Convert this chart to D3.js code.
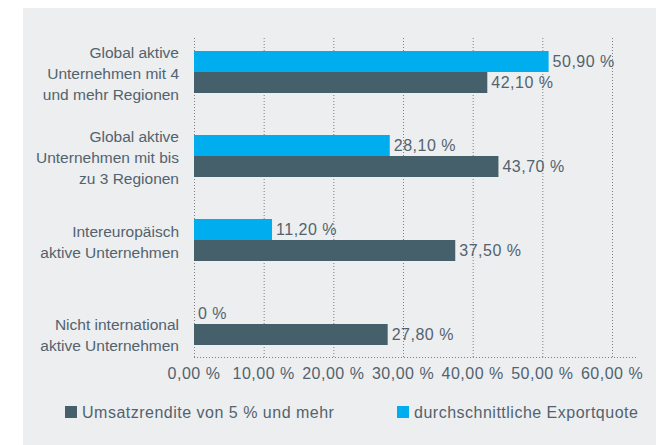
<!DOCTYPE html>
<html><head><meta charset="utf-8">
<script src="https://cdn.jsdelivr.net/npm/d3@7"></script>
<style>
html,body{margin:0;padding:0;background:#fff;}
svg{display:block;font-family:"Liberation Sans",Arial,sans-serif;}
</style></head>
<body>
<svg id="c" width="656" height="445"></svg>
<script>
const categories = [
  ["Global aktive","Unternehmen mit 4","und mehr Regionen"],
  ["Global aktive","Unternehmen mit bis","zu 3 Regionen"],
  ["Intereuropäisch","aktive Unternehmen"],
  ["Nicht international","aktive Unternehmen"]
];
const exportquote = [50.9, 28.1, 11.2, 0];
const umsatzrendite = [42.1, 43.7, 37.5, 27.8];
const valueLabelsExport = ["50,90 %","28,10 %","11,20 %","0 %"];
const valueLabelsUmsatz = ["42,10 %","43,70 %","37,50 %","27,80 %"];
const ticks = [0,10,20,30,40,50,60];
const tickLabels = ["0,00 %","10,00 %","20,00 %","30,00 %","40,00 %","50,00 %","60,00 %"];
const legendNames = ["Umsatzrendite von 5 % und mehr","durchschnittliche Exportquote"];

(function(){
const BLUE="#00aeef", DARK="#455f6b", TXT="#52636e", GRID="#7d7f82";
const FS=16, LS=0.5, CFS=15.5;
const svg=d3.select("#c");
svg.append("rect").attr("x",23).attr("y",8).attr("width",633).attr("height",437).attr("fill","#edeef0");

const x=d3.scaleLinear().domain([0,60]).range([194,612]);
const y=d3.scaleBand().domain(d3.range(4)).range([30,366]).paddingInner(0.5).paddingOuter(0.25);
const bh=y.bandwidth()/2;
const gTop=38, axisY=357;

svg.append("g").selectAll("line").data(ticks).join("line")
  .attr("x1",d=>x(d)+0.5).attr("x2",d=>x(d)+0.5).attr("y1",gTop).attr("y2",axisY+2)
  .attr("stroke",GRID).attr("stroke-width",1).attr("stroke-dasharray","1,2");
svg.append("line").attr("x1",194).attr("x2",637).attr("y1",axisY+0.5).attr("y2",axisY+0.5)
  .attr("stroke",GRID).attr("stroke-width",1).attr("stroke-dasharray","1,2");

svg.append("g").selectAll("rect").data(exportquote).join("rect")
  .attr("x",x(0)).attr("y",(d,i)=>y(i)).attr("width",d=>x(d)-x(0)).attr("height",bh).attr("fill",BLUE);
svg.append("g").selectAll("rect").data(umsatzrendite).join("rect")
  .attr("x",x(0)).attr("y",(d,i)=>y(i)+bh).attr("width",d=>x(d)-x(0)).attr("height",bh).attr("fill",DARK);

svg.append("g").selectAll("text").data(exportquote).join("text")
  .attr("x",d=>x(d)+4).attr("y",(d,i)=>y(i)+bh/2).attr("dy","0.35em")
  .attr("fill",TXT).attr("font-size",FS).attr("letter-spacing",LS).text((d,i)=>valueLabelsExport[i]);
svg.append("g").selectAll("text").data(umsatzrendite).join("text")
  .attr("x",d=>x(d)+4).attr("y",(d,i)=>y(i)+bh*1.5).attr("dy","0.35em")
  .attr("fill",TXT).attr("font-size",FS).attr("letter-spacing",LS).text((d,i)=>valueLabelsUmsatz[i]);

const lh=21;
categories.forEach((lines,i)=>{
  const c = y(i)+y.bandwidth()/2 + (exportquote[i]===0 ? 11 : 2);
  const t=svg.append("text").attr("text-anchor","end").attr("fill",TXT).attr("font-size",CFS);
  lines.forEach((l,j)=>{
    t.append("tspan").attr("x",179).attr("y",c+(j-(lines.length-1)/2)*lh).attr("dy","0.35em").text(l);
  });
});

svg.append("g").selectAll("text").data(ticks).join("text")
  .attr("x",d=>x(d)).attr("y",373).attr("dy","0.35em").attr("text-anchor","middle")
  .attr("fill",TXT).attr("font-size",FS).attr("letter-spacing",LS).text((d,i)=>tickLabels[i]);

const leg=[{x:65,c:DARK},{x:397,c:BLUE}];
leg.forEach((l,i)=>{
  svg.append("rect").attr("x",l.x).attr("y",406).attr("width",12).attr("height",12).attr("fill",l.c);
  svg.append("text").attr("x",l.x+17).attr("y",412).attr("dy","0.35em").attr("fill",TXT)
    .attr("font-size",FS).attr("letter-spacing",LS).text(legendNames[i]);
});
})();
</script>
</body></html>
